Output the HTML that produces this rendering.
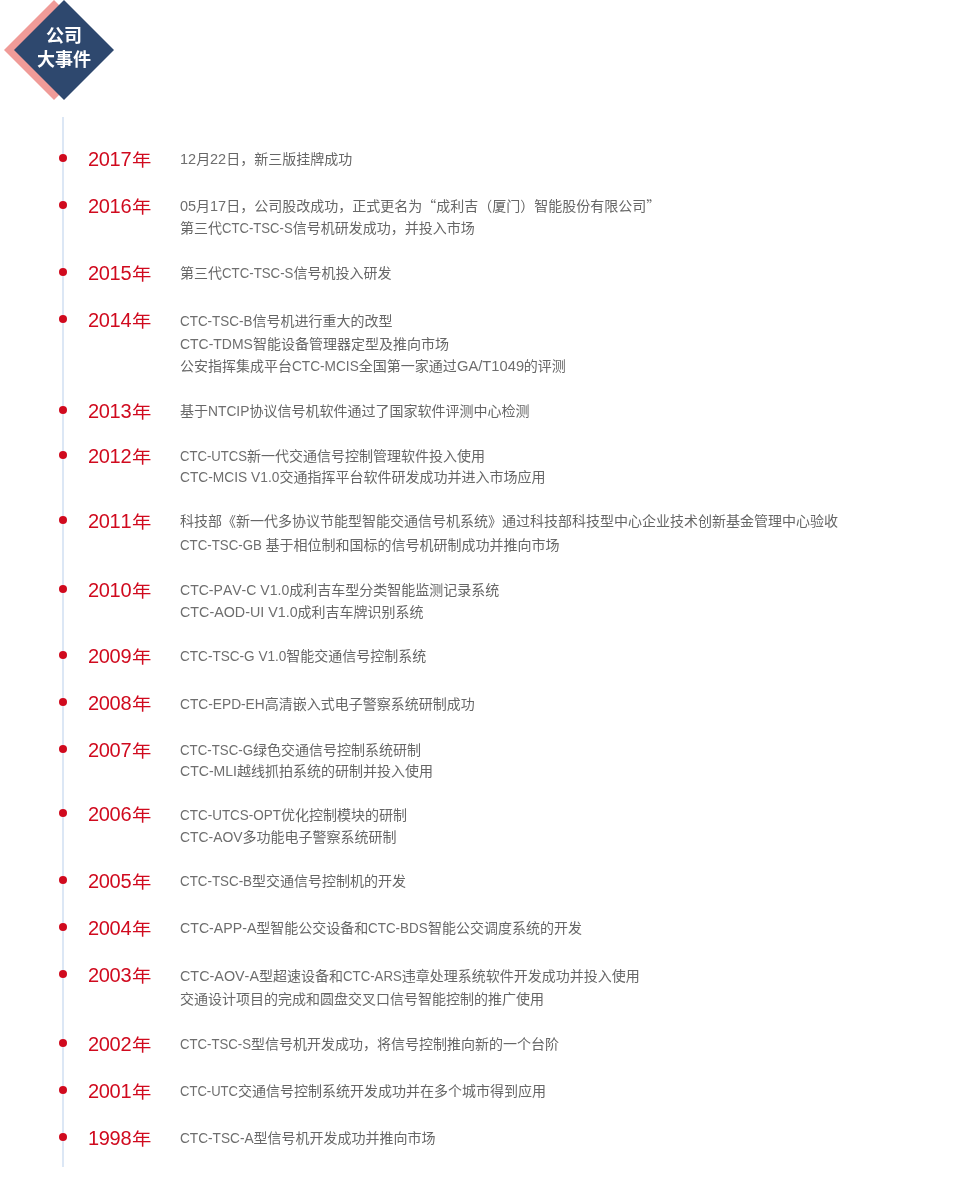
<!DOCTYPE html>
<html lang="zh-CN">
<head>
<meta charset="utf-8">
<title>公司大事件</title>
<style>
html,body{margin:0;padding:0;background:#fff;}
body{font-kerning:none;width:960px;height:1184px;position:relative;overflow:hidden;font-family:"Liberation Sans","Noto Sans CJK SC",sans-serif;}
.title{position:absolute;left:0;top:0;width:130px;height:110px;}
.dia{position:absolute;width:70px;height:70px;transform:rotate(45deg) scale(1.0102);transform-origin:50% 50%;}
.dia.pink{background:#f09b98;left:19px;top:15px;}
.dia.navy{background:#2e486e;left:29px;top:15px;}
.title .txt{position:absolute;left:14px;top:24.2px;width:100px;text-align:center;color:#fff;font-weight:bold;font-size:18px;line-height:24px;}
.line{position:absolute;left:62px;top:117px;width:2px;height:1050px;background:#dce7f5;}
.dot{position:absolute;left:59px;width:8px;height:8px;border-radius:50%;background:#d00a1e;}
.year{position:absolute;left:88px;font-size:20px;line-height:28px;height:28px;color:#d00a1e;white-space:nowrap;}
.ql,.qr{display:inline-block;width:14px;font-family:"Noto Sans CJK SC",sans-serif;}
.ql{text-align:right;}
.qr{text-align:left;}
.year .n{letter-spacing:-0.32px;}
.year .c{font-size:18.5px;display:inline-block;margin-left:0.6px;transform:scale(1.045,0.94);transform-origin:0 78%;}
.l{display:inline-block;color:#6e6e6e;font-size:15px;line-height:1;transform-origin:0 50%;white-space:pre;}
.d{position:absolute;left:180px;font-size:14px;line-height:22px;height:22px;color:#666;white-space:nowrap;}
</style>
</head>
<body>
<div class="title"><div class="dia pink"></div><div class="dia navy"></div><div class="txt">公司<br>大事件</div></div>
<div class="line"></div>
<ul style="list-style:none;margin:0;padding:0">
<li>
<i class="dot" style="top:154px"></i>
<span class="year" style="top:145.2px"><span class="n">2017</span><span class="c">年</span></span>
<p class="d" id="d0" style="margin:0;top:147.7px"><span class="l" style="width:16.15px;transform:scaleX(0.9678)">12</span>月<span class="l" style="width:16.15px;transform:scaleX(0.9678)">22</span>日，新三版挂牌成功</p>
</li>
<li>
<i class="dot" style="top:201px"></i>
<span class="year" style="top:192.3px"><span class="n">2016</span><span class="c">年</span></span>
<p class="d" id="d1" style="margin:0;top:193.5px"><span class="l" style="width:16.10px;transform:scaleX(0.9648)">05</span>月<span class="l" style="width:16.10px;transform:scaleX(0.9648)">17</span>日，公司股改成功，正式更名为<span class="ql">“</span>成利吉（厦门）智能股份有限公司<span class="qr">”</span></p>
<p class="d" id="d2" style="margin:0;top:217.2px">第三代<span class="l" style="width:70.70px;transform:scaleX(0.8747)">CTC-TSC-S</span>信号机研发成功，并投入市场</p>
</li>
<li>
<i class="dot" style="top:268px"></i>
<span class="year" style="top:259.3px"><span class="n">2015</span><span class="c">年</span></span>
<p class="d" id="d3" style="margin:0;top:261.7px">第三代<span class="l" style="width:71.40px;transform:scaleX(0.8834)">CTC-TSC-S</span>信号机投入研发</p>
</li>
<li>
<i class="dot" style="top:315px"></i>
<span class="year" style="top:305.5px"><span class="n">2014</span><span class="c">年</span></span>
<p class="d" id="d4" style="margin:0;top:310.2px"><span class="l" style="width:72.40px;transform:scaleX(0.8957)">CTC-TSC-B</span>信号机进行重大的改型</p>
<p class="d" id="d5" style="margin:0;top:332.8px"><span class="l" style="width:72.90px;transform:scaleX(0.9307)">CTC-TDMS</span>智能设备管理器定型及推向市场</p>
<p class="d" id="d6" style="margin:0;top:354.7px">公安指挥集成平台<span class="l" style="width:66.74px;transform:scaleX(0.9101)">CTC-MCIS</span>全国第一家通过<span class="l" style="width:67.06px;transform:scaleX(0.9808)">GA/T1049</span>的评测</p>
</li>
<li>
<i class="dot" style="top:406px"></i>
<span class="year" style="top:397.2px"><span class="n">2013</span><span class="c">年</span></span>
<p class="d" id="d7" style="margin:0;top:399.7px">基于<span class="l" style="width:41.40px;transform:scaleX(0.9200)">NTCIP</span>协议信号机软件通过了国家软件评测中心检测</p>
</li>
<li>
<i class="dot" style="top:451px"></i>
<span class="year" style="top:442.3px"><span class="n">2012</span><span class="c">年</span></span>
<p class="d" id="d8" style="margin:0;top:444.7px"><span class="l" style="width:67.10px;transform:scaleX(0.8753)">CTC-UTCS</span>新一代交通信号控制管理软件投入使用</p>
<p class="d" id="d9" style="margin:0;top:465.7px"><span class="l" style="width:99.40px;transform:scaleX(0.9173)">CTC-MCIS V1.0</span>交通指挥平台软件研发成功并进入市场应用</p>
</li>
<li>
<i class="dot" style="top:516px"></i>
<span class="year" style="top:506.5px"><span class="n">2011</span><span class="c">年</span></span>
<p class="d" id="d10" style="margin:0;top:509.7px">科技部《新一代多协议节能型智能交通信号机系统》通过科技部科技型中心企业技术创新基金管理中心验收</p>
<p class="d" id="d11" style="margin:0;top:533.7px"><span class="l" style="width:85.60px;transform:scaleX(0.8855)">CTC-TSC-GB </span>基于相位制和国标的信号机研制成功并推向市场</p>
</li>
<li>
<i class="dot" style="top:585px"></i>
<span class="year" style="top:576.2px"><span class="n">2010</span><span class="c">年</span></span>
<p class="d" id="d12" style="margin:0;top:578.7px"><span class="l" style="width:109.20px;transform:scaleX(0.9357)">CTC-PAV-C V1.0</span>成利吉车型分类智能监测记录系统</p>
<p class="d" id="d13" style="margin:0;top:601px"><span class="l" style="width:117.60px;transform:scaleX(0.9533)">CTC-AOD-UI V1.0</span>成利吉车牌识别系统</p>
</li>
<li>
<i class="dot" style="top:651px"></i>
<span class="year" style="top:642.2px"><span class="n">2009</span><span class="c">年</span></span>
<p class="d" id="d14" style="margin:0;top:644.7px"><span class="l" style="width:106.30px;transform:scaleX(0.9046)">CTC-TSC-G V1.0</span>智能交通信号控制系统</p>
</li>
<li>
<i class="dot" style="top:698px"></i>
<span class="year" style="top:689.3px"><span class="n">2008</span><span class="c">年</span></span>
<p class="d" id="d15" style="margin:0;top:692.7px"><span class="l" style="width:84.70px;transform:scaleX(0.9157)">CTC-EPD-EH</span>高清嵌入式电子警察系统研制成功</p>
</li>
<li>
<i class="dot" style="top:745px"></i>
<span class="year" style="top:736px"><span class="n">2007</span><span class="c">年</span></span>
<p class="d" id="d16" style="margin:0;top:738.7px"><span class="l" style="width:73.00px;transform:scaleX(0.8848)">CTC-TSC-G</span>绿色交通信号控制系统研制</p>
<p class="d" id="d17" style="margin:0;top:759.7px"><span class="l" style="width:57.00px;transform:scaleX(0.9371)">CTC-MLI</span>越线抓拍系统的研制并投入使用</p>
</li>
<li>
<i class="dot" style="top:809px"></i>
<span class="year" style="top:800.3px"><span class="n">2006</span><span class="c">年</span></span>
<p class="d" id="d18" style="margin:0;top:803.7px"><span class="l" style="width:101.00px;transform:scaleX(0.8978)">CTC-UTCS-OPT</span>优化控制模块的研制</p>
<p class="d" id="d19" style="margin:0;top:826.3px"><span class="l" style="width:62.60px;transform:scaleX(0.9274)">CTC-AOV</span>多功能电子警察系统研制</p>
</li>
<li>
<i class="dot" style="top:876px"></i>
<span class="year" style="top:866.5px"><span class="n">2005</span><span class="c">年</span></span>
<p class="d" id="d20" style="margin:0;top:869.7px"><span class="l" style="width:72.00px;transform:scaleX(0.8908)">CTC-TSC-B</span>型交通信号控制机的开发</p>
</li>
<li>
<i class="dot" style="top:923px"></i>
<span class="year" style="top:914.3px"><span class="n">2004</span><span class="c">年</span></span>
<p class="d" id="d21" style="margin:0;top:917px"><span class="l" style="width:76.33px;transform:scaleX(0.9442)">CTC-APP-A</span>型智能公交设备和<span class="l" style="width:59.67px;transform:scaleX(0.8950)">CTC-BDS</span>智能公交调度系统的开发</p>
</li>
<li>
<i class="dot" style="top:970px"></i>
<span class="year" style="top:960.5px"><span class="n">2003</span><span class="c">年</span></span>
<p class="d" id="d22" style="margin:0;top:964.7px"><span class="l" style="width:78.99px;transform:scaleX(0.9574)">CTC-AOV-A</span>型超速设备和<span class="l" style="width:58.81px;transform:scaleX(0.8821)">CTC-ARS</span>违章处理系统软件开发成功并投入使用</p>
<p class="d" id="d23" style="margin:0;top:988.3px">交通设计项目的完成和圆盘交叉口信号智能控制的推广使用</p>
</li>
<li>
<i class="dot" style="top:1039px"></i>
<span class="year" style="top:1030px"><span class="n">2002</span><span class="c">年</span></span>
<p class="d" id="d24" style="margin:0;top:1032.7px"><span class="l" style="width:71.00px;transform:scaleX(0.8784)">CTC-TSC-S</span>型信号机开发成功，将信号控制推向新的一个台阶</p>
</li>
<li>
<i class="dot" style="top:1086px"></i>
<span class="year" style="top:1077px"><span class="n">2001</span><span class="c">年</span></span>
<p class="d" id="d25" style="margin:0;top:1079.7px"><span class="l" style="width:58.00px;transform:scaleX(0.8701)">CTC-UTC</span>交通信号控制系统开发成功并在多个城市得到应用</p>
</li>
<li>
<i class="dot" style="top:1133px"></i>
<span class="year" style="top:1124.3px"><span class="n">1998</span><span class="c">年</span></span>
<p class="d" id="d26" style="margin:0;top:1127px"><span class="l" style="width:73.60px;transform:scaleX(0.9106)">CTC-TSC-A</span>型信号机开发成功并推向市场</p>
</li>
</ul>
</body></html>
